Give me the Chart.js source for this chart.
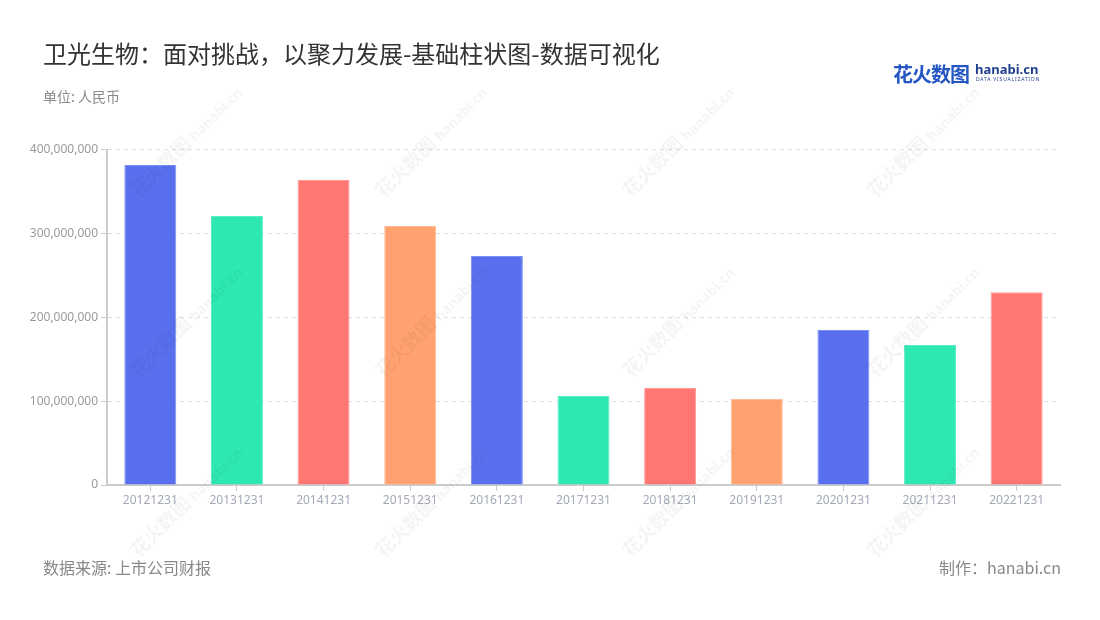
<!DOCTYPE html>
<html><head><meta charset="utf-8">
<script src="https://cdn.jsdelivr.net/npm/chart.js@4/dist/chart.umd.min.js"></script>
<style>
html,body{margin:0;padding:0;background:#fff;width:1100px;height:620px;overflow:hidden;font-family:"Noto Sans CJK SC","Noto Sans",sans-serif;}
#wrap{position:relative;width:1100px;height:620px;}
canvas{position:absolute;left:0;top:0;}
.t{position:absolute;white-space:nowrap;}
#title{left:43px;top:35px;font-size:24px;color:#333;}
#unit{left:43px;top:86px;font-size:14px;color:#8a8a8a;}
#src{left:43px;top:555px;font-size:16px;color:#888;}
#made{right:39px;top:555px;font-size:16px;color:#888;}
#logo1{left:893px;top:59px;font-size:20px;font-weight:bold;color:#2456c4;letter-spacing:-1px;}
#logo2{left:975px;top:60px;font-size:13px;font-weight:bold;color:#1f3f8f;font-family:"Noto Sans",sans-serif;}
#logo3{left:976px;top:76px;font-size:5px;color:#1f3f8f;letter-spacing:0.8px;font-family:"Noto Sans",sans-serif;}
.wm{position:absolute;transform:translate(-50%,-50%) rotate(-45deg);color:rgba(0,0,0,0.045);font-weight:bold;white-space:nowrap;font-size:19px;pointer-events:none;z-index:5;}
.wm span{font-size:14px;font-family:"Noto Sans",sans-serif;}
</style></head>
<body><div id="wrap">
<canvas id="c" width="1100" height="620"></canvas>
<div class="t" id="title">卫光生物：面对挑战，以聚力发展-基础柱状图-数据可视化</div>
<div class="t" id="unit">单位: 人民币</div>
<div class="t" id="src">数据来源: 上市公司财报</div>
<div class="t" id="made">制作：hanabi.cn</div>
<div class="t" id="logo1">花火数图</div>
<div class="t" id="logo2">hanabi.cn</div>
<div class="t" id="logo3">DATA VISUALIZATION</div>
</div>
<script>
const categories = ["20121231","20131231","20141231","20151231","20161231","20171231","20181231","20191231","20201231","20211231","20221231"];
const values = [381400000, 320600000, 363500000, 308700000, 273000000, 106000000, 115600000, 102500000, 184700000, 166900000, 229700000];
const palette = ["#5870ee","#2ee8b4","#ff7672","#ffa270"];
const paletteBorder = ["#7d90f2","#5aeec4","#ff9a97","#ffbb95"];
const yTicks = [0, 100000000, 200000000, 300000000, 400000000];
const wmX = [185, 430, 677, 922];
const wmY = [140, 320, 500];

const wrap = document.getElementById('wrap');
wmY.forEach(y => wmX.forEach(x => {
  const d = document.createElement('div');
  d.className = 'wm';
  d.style.left = x + 'px'; d.style.top = y + 'px';
  d.innerHTML = '花火数图 <span>hanabi.cn</span>';
  wrap.appendChild(d);
}));

new Chart(document.getElementById('c'), {
  type: 'bar',
  data: {
    labels: categories,
    datasets: [{
      data: values,
      backgroundColor: values.map((v,i) => palette[i % palette.length]),
      borderColor: values.map((v,i) => paletteBorder[i % paletteBorder.length]),
      borderWidth: 1,
      categoryPercentage: 1,
      barPercentage: 0.6
    }]
  },
  options: {
    responsive: false,
    animation: false,
    plugins: { legend: { display: false }, tooltip: { enabled: false } },
    layout: { padding: { left: 0, top: 149.5, right: 40, bottom: 0 } },
    scales: {
      x: {
        grid: { display: true, drawOnChartArea: false, offset: false, tickLength: 6, tickColor: '#cccccc' },
        border: { display: true, color: '#cccccc', width: 2 },
        ticks: { color: '#a3a8b8', font: { size: 12, family: '"Noto Sans","Noto Sans CJK SC",sans-serif' }, padding: 2, maxRotation: 0 },
        afterFit: s => { s.height = 135; }
      },
      y: {
        min: 0, max: 400000000,
        afterBuildTicks: s => { s.ticks = yTicks.map(v => ({ value: v })); },
        grid: { color: '#e0e0e0', tickColor: '#cccccc', tickLength: 6, tickBorderDash: [] },
        border: { display: true, color: '#cccccc', width: 2, dash: [4, 4] },
        ticks: { color: '#999999', font: { size: 12, family: '"Noto Sans","Noto Sans CJK SC",sans-serif' }, padding: 3,
          callback: v => Number(v).toLocaleString('en-US') },
        afterFit: s => { s.width = 107; }
      }
    }
  }
});
</script>
</body></html>
